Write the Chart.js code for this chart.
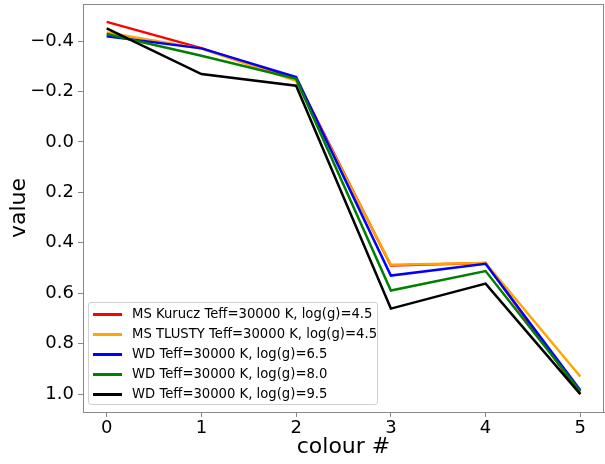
<!DOCTYPE html>
<html>
<head>
<meta charset="utf-8">
<script src="https://cdn.jsdelivr.net/npm/chart.js@4.4.0/dist/chart.umd.min.js"></script>
<style>
  html, body { margin: 0; padding: 0; background: #fff; }
  #wrap { position: relative; width: 605px; height: 464px; }
  #legend {
    position: absolute; left: 88px; top: 302px; width: 290px; height: 103px;
    border: 1px solid #d0d0d0; border-radius: 3px; background: rgba(255,255,255,0.8);
    font-family: "DejaVu Sans", sans-serif; font-size: 13.2px; color: #000;
    box-sizing: border-box; padding-top: 1px;
  }
  .row { position: relative; height: 20px; line-height: 20px; }
  .row span.swatch { position: absolute; left: 4px; top: 9px; width: 29px; height: 2.5px; }
  .row span.txt { position: absolute; left: 43px; white-space: nowrap; }
</style>
</head>
<body>
<div id="wrap">
  <canvas id="chart" width="605" height="464"></canvas>
  <div id="legend"></div>
</div>
<script>
// colour index on x, value on (inverted) y
var colours = [0, 1, 2, 3, 4, 5];
var yTicks = [-0.4, -0.2, 0.0, 0.2, 0.4, 0.6, 0.8, 1.0];

var msKurucz = [-0.476, -0.372, -0.250, 0.490, 0.480, 1.000];
var msTlusty = [-0.434, -0.370, -0.242, 0.487, 0.480, 0.930];
var wd65     = [-0.419, -0.371, -0.257, 0.530, 0.483, 0.985];
var wd80     = [-0.428, -0.342, -0.250, 0.589, 0.512, 0.990];
var wd95     = [-0.450, -0.269, -0.223, 0.661, 0.562, 1.000];

var labels = [
  'MS Kurucz Teff=30000 K, log(g)=4.5',
  'MS TLUSTY Teff=30000 K, log(g)=4.5',
  'WD Teff=30000 K, log(g)=6.5',
  'WD Teff=30000 K, log(g)=8.0',
  'WD Teff=30000 K, log(g)=9.5'
];
var lineColours = ['#ff0000', '#ffa500', '#0000ff', '#008000', '#000000'];
var series = [msKurucz, msTlusty, wd65, wd80, wd95];

var datasets = series.map(function (vals, i) {
  return {
    label: labels[i],
    data: vals.map(function (v, j) { return { x: colours[j], y: v }; }),
    borderColor: lineColours[i],
    backgroundColor: lineColours[i],
    borderWidth: 2.5,
    pointRadius: 0,
    tension: 0,
    fill: false,
    order: series.length - i
  };
});

function fmt(v) {
  return v.toFixed(1).replace('-', '\u2212');
}

// top and right spines
var frame = {
  id: 'frame',
  afterDraw: function (chart) {
    var a = chart.chartArea, c = chart.ctx;
    c.save();
    c.strokeStyle = '#888';
    c.lineWidth = 1;
    c.strokeRect(a.left + 0.5, a.top + 0.5, a.right - a.left - 1, a.bottom - a.top);
    c.restore();
  }
};

var ctx = document.getElementById('chart').getContext('2d');
var chart = new Chart(ctx, {
  type: 'line',
  data: { datasets: datasets },
  plugins: [frame],
  options: {
    responsive: false,
    animation: false,
    layout: { padding: { top: 4, right: 1, left: 0, bottom: 0 } },
    plugins: { legend: { display: false }, tooltip: { enabled: false } },
    scales: {
      x: {
        type: 'linear',
        min: -0.25,
        max: 5.25,
        afterBuildTicks: function (s) { s.ticks = colours.map(function (v) { return { value: v }; }); },
        afterFit: function (s) { s.height = 52; s.paddingLeft = 0; s.paddingRight = 0; },
        grid: { drawOnChartArea: false, color: '#888', tickLength: 5 },
        border: { color: '#888' },
        ticks: {
          color: '#000',
          padding: 1,
          font: { family: 'DejaVu Sans', size: 18 },
          callback: function (v) { return String(v); }
        },
        title: {
          display: true, text: 'colour #', color: '#000',
          font: { family: 'DejaVu Sans', size: 22 },
          padding: { top: 0, bottom: 4 }
        }
      },
      y: {
        type: 'linear',
        reverse: true,
        min: -0.547,
        max: 1.071,
        afterBuildTicks: function (s) { s.ticks = yTicks.map(function (v) { return { value: v }; }); },
        afterFit: function (s) { s.width = 83; s.paddingTop = 0; s.paddingBottom = 0; },
        grid: { drawOnChartArea: false, color: '#888', tickLength: 5 },
        border: { color: '#888' },
        ticks: {
          color: '#000',
          padding: 4,
          font: { family: 'DejaVu Sans', size: 18 },
          callback: function (v) { return fmt(v); }
        },
        title: {
          display: true, text: 'value', color: '#000',
          font: { family: 'DejaVu Sans', size: 22 },
          padding: { top: 6, bottom: 0 }
        }
      }
    }
  }
});

var legend = document.getElementById('legend');
labels.forEach(function (l, i) {
  var row = document.createElement('div');
  row.className = 'row';
  row.innerHTML = '<span class="swatch" style="background:' + lineColours[i] + '"></span><span class="txt"></span>';
  row.querySelector('.txt').textContent = l;
  legend.appendChild(row);
});
</script>
</body>
</html>
